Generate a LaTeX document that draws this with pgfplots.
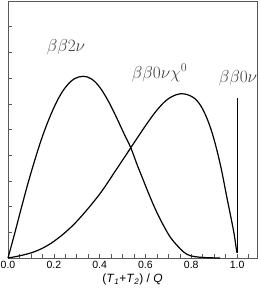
\documentclass[border=0pt]{standalone}
\usepackage{fontspec}
\setmainfont{Liberation Sans}
\usepackage{pgfplots}
\pgfplotsset{compat=1.18}
\begin{document}
\begin{tikzpicture}
\begin{axis}[
  name=ax,
  scale only axis,
  width=249pt, height=257pt,
  xmin=0, xmax=1.087, ymin=0, ymax=1,
  axis line style={black!65, line width=0.8pt},
  tick align=inside,
  xtick pos=lower, ytick pos=left,
  xtick={0,0.2,...,1.0},
  minor xtick={0.05,0.1,...,1.051},
  ytick={0,0.1,...,1.0},
  yticklabels={},
  major tick length=4pt, minor tick length=4pt,
  tick style={black!65, line width=0.6pt},
  xticklabel style={font=\fontsize{10.5}{12}\selectfont, /pgf/number format/fixed, /pgf/number format/fixed zerofill, /pgf/number format/precision=1},
  /pgf/number format/assume math mode=true,
  xlabel={(\textit{T}\textsubscript{\textit{1}}+\textit{T}\textsubscript{\textit{2}}) / \textit{Q}},
  xlabel style={font=\fontsize{12}{14}\selectfont, yshift=2pt},
  clip=false,
]
\addplot[black, line width=1.2pt, smooth, tension=0.6] coordinates {
(0,0) (0.029,0.095) (0.058,0.194) (0.087,0.290) (0.117,0.381) (0.146,0.462) (0.175,0.532)
(0.204,0.592) (0.233,0.641) (0.262,0.676) (0.291,0.698) (0.328,0.707) (0.364,0.697)
(0.400,0.665) (0.437,0.612) (0.473,0.548) (0.510,0.477) (0.536,0.429) (0.562,0.367)
(0.591,0.302) (0.620,0.238) (0.649,0.179) (0.678,0.128) (0.707,0.083) (0.737,0.050)
(0.766,0.024) (0.795,0.009) (0.838,0.003) (0.880,0.001) (0.926,0)
};
\addplot[black, line width=1.2pt, smooth, tension=0.6] coordinates {
(0,0) (0.058,0.010) (0.117,0.025) (0.175,0.050) (0.233,0.087) (0.291,0.134) (0.349,0.192)
(0.407,0.257) (0.466,0.335) (0.536,0.429) (0.562,0.464) (0.606,0.522) (0.649,0.574)
(0.693,0.615) (0.737,0.636) (0.773,0.638) (0.817,0.619) (0.853,0.574) (0.890,0.490)
(0.926,0.367) (0.955,0.238) (0.984,0.109) (0.996,0.040) (1.0,0.02)
};
\addplot[black, line width=0.9pt] coordinates {(1.0,0.02) (1.0,0.622)};
\node[black!75, font=\fontsize{18}{21}\selectfont] at (axis cs:0.253,0.822) {$\beta\beta2\nu$};
\node[black!75, font=\fontsize{18}{21}\selectfont] at (axis cs:0.662,0.721) {$\beta\beta0\nu\chi^0$};
\node[black!75, font=\fontsize{18}{21}\selectfont] at (axis cs:1.004,0.70) {$\beta\beta0\nu$};
\end{axis}
\pgfresetboundingbox
\path[use as bounding box] ([xshift=-8pt,yshift=-37pt]ax.south west) rectangle ([xshift=4pt,yshift=1pt]ax.north east);
\end{tikzpicture}
\end{document}
